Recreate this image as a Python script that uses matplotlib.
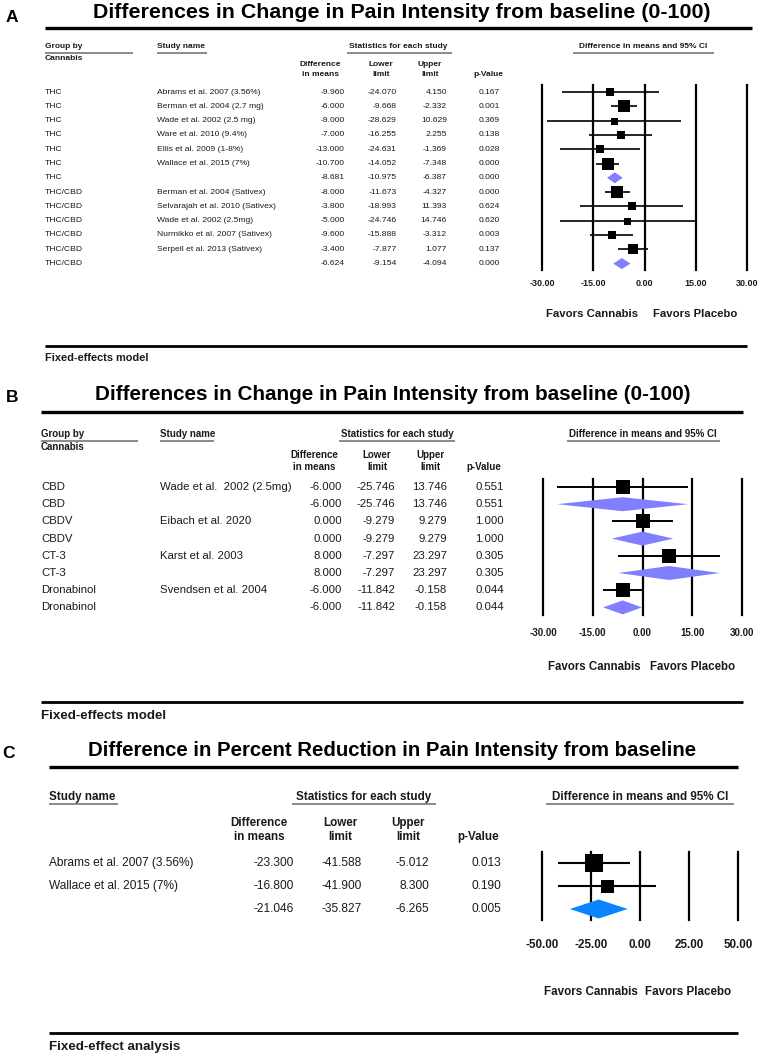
import numpy as np
import matplotlib
matplotlib.use('Agg')
import matplotlib.pyplot as plt
from matplotlib.patches import Polygon

# ---- data ----
groups_a = ['THC'] * 7 + ['THC/CBD'] * 6
studies_a = ['Abrams et al. 2007 (3.56%)', 'Berman et al. 2004 (2.7 mg)', 'Wade et al. 2002 (2.5 mg)',
             'Ware et al. 2010 (9.4%)', 'Ellis et al. 2009 (1-8%)', 'Wallace et al. 2015 (7%)', '',
             'Berman et al. 2004 (Sativex)', 'Selvarajah et al. 2010 (Sativex)', 'Wade et al. 2002 (2.5mg)',
             'Nurmikko et al. 2007 (Sativex)', 'Serpell et al. 2013 (Sativex)', '']
diff_a = [-9.960, -6.000, -9.000, -7.000, -13.000, -10.700, -8.681, -8.000, -3.800, -5.000, -9.600, -3.400, -6.624]
lower_a = [-24.070, -9.668, -28.629, -16.255, -24.631, -14.052, -10.975, -11.673, -18.993, -24.746, -15.888, -7.877, -9.154]
upper_a = [4.150, -2.332, 10.629, 2.255, -1.369, -7.348, -6.387, -4.327, 11.393, 14.746, -3.312, 1.077, -4.094]
p_a = [0.167, 0.001, 0.369, 0.138, 0.028, 0.000, 0.000, 0.000, 0.624, 0.620, 0.003, 0.137, 0.000]

groups_b = ['CBD', 'CBD', 'CBDV', 'CBDV', 'CT-3', 'CT-3', 'Dronabinol', 'Dronabinol']
studies_b = ['Wade et al.  2002 (2.5mg)', '', 'Eibach et al. 2020', '', 'Karst et al. 2003', '',
             'Svendsen et al. 2004', '']
diff_b = [-6.000, -6.000, 0.000, 0.000, 8.000, 8.000, -6.000, -6.000]
lower_b = [-25.746, -25.746, -9.279, -9.279, -7.297, -7.297, -11.842, -11.842]
upper_b = [13.746, 13.746, 9.279, 9.279, 23.297, 23.297, -0.158, -0.158]
p_b = [0.551, 0.551, 1.000, 1.000, 0.305, 0.305, 0.044, 0.044]

studies_c = ['Abrams et al. 2007 (3.56%)', 'Wallace et al. 2015 (7%)', '']
diff_c = [-23.300, -16.800, -21.046]
lower_c = [-41.588, -41.900, -35.827]
upper_c = [-5.012, 8.300, -6.265]
p_c = [0.013, 0.190, 0.005]

ticks_ab = [-30, -15, 0, 15, 30]
ticks_c = [-50, -25, 0, 25, 50]

# ---- fonts ----
ARIAL = 'Liberation Sans'
plt.rcParams['font.family'] = [ARIAL, 'DejaVu Sans']

W, H = 762, 1058
fig = plt.figure(figsize=(W / 100, H / 100), dpi=100)
base = fig.add_axes([0, 0, 1, 1])
base.set_xlim(0, W)
base.set_ylim(H, 0)
base.axis('off')
renderer = fig.canvas.get_renderer()
TXT = '#1a1a1a'


def fit_size(s, width, bold=False):
    # font size that makes string s about `width` pixels wide
    tmp = base.text(0, 0, s, fontsize=10, fontweight='bold' if bold else 'normal')
    w = tmp.get_window_extent(renderer).width
    tmp.remove()
    return 10 * width / w


def t(x, y, s, size, bold=False, ha='left', color=TXT):
    base.text(x, y, s, fontsize=size, fontweight='bold' if bold else 'normal',
              ha=ha, va='center', color=color)


def hline(x0, x1, y, lw=2.2, color='black'):
    base.plot([x0, x1], [y, y], color=color, lw=lw, solid_capstyle='butt')


def box_sizes(groups, lo, hi, studies, smin, smax):
    w = 1.0 / ((np.array(hi) - np.array(lo)) / 3.92) ** 2
    out = []
    for i, g in enumerate(groups):
        idx = [j for j in range(len(groups)) if groups[j] == g and studies[j]]
        ws = w[idx]
        if ws.max() > ws.min():
            n = (w[i] - ws.min()) / (ws.max() - ws.min())
        else:
            n = 1.0
        out.append(smin + (smax - smin) * n)
    return out


def forest(px0, px1, py0, py1, xlim, row0, dy, diff, lo, hi, studies, sizes, dcol, dhalf,
           ticks, tsize, tpad, cilw, vlw=1.6):
    ax = fig.add_axes([px0 / W, 1 - py1 / H, (px1 - px0) / W, (py1 - py0) / H])
    ax.patch.set_visible(False)
    ax.set_xlim(xlim)
    ax.set_ylim((py1 - row0) / dy, (py0 - row0) / dy)
    for s in ax.spines.values():
        s.set_visible(False)
    for tk in ticks:
        ax.axvline(tk, color='black', lw=vlw, clip_on=False, zorder=1)
    for i in range(len(diff)):
        if studies[i]:
            ax.plot([lo[i], hi[i]], [i, i], color='black', lw=cilw, zorder=2, solid_capstyle='butt')
            ax.plot(diff[i], i, marker='s', ms=sizes[i] * 0.72, color='black', mec='black',
                    mew=0, zorder=3)
        else:
            h = dhalf / dy
            ax.add_patch(Polygon([(lo[i], i), (diff[i], i - h), (hi[i], i), (diff[i], i + h)],
                                 closed=True, facecolor=dcol, edgecolor='none', zorder=3))
    ax.set_yticks([])
    ax.set_xticks(ticks)
    ax.set_xticklabels([f'{v:.2f}' for v in ticks], fontsize=tsize, fontweight='bold', color=TXT)
    ax.tick_params(axis='x', length=0, pad=tpad)
    return ax


title_ab = 'Differences in Change in Pain Intensity from baseline (0-100)'
title_c = 'Difference in Percent Reduction in Pain Intensity from baseline'

# ================= Panel A =================
FA = 6.1
HA = 6.05
t(6, 18, 'A', 12.5, bold=True, color='black')
t(402, 13, title_ab, fit_size(title_ab, 615, True), bold=True, ha='center', color='black')
hline(45, 752, 28, lw=2.4)
t(45, 47, 'Group by', HA, bold=True)
hline(45, 133, 52.5, lw=1.4, color='#8a8a8a')
t(45, 58, 'Cannabis', HA, bold=True)
t(157, 47, 'Study name', HA, bold=True)
hline(157, 207, 52.5, lw=1.4, color='#8a8a8a')
t(398, 47, 'Statistics for each study', HA, bold=True, ha='center')
hline(347, 452, 52.5, lw=1.4, color='#8a8a8a')
t(643, 47, 'Difference in means and 95% CI', HA, bold=True, ha='center')
hline(573, 714, 52.5, lw=1.4, color='#8a8a8a')
t(320, 64, 'Difference', HA, bold=True, ha='center')
t(320, 75, 'in means', HA, bold=True, ha='center')
t(381, 64, 'Lower', HA, bold=True, ha='center')
t(381, 75, 'limit', HA, bold=True, ha='center')
t(430, 64, 'Upper', HA, bold=True, ha='center')
t(430, 75, 'limit', HA, bold=True, ha='center')
t(488, 75, 'p-Value', HA, bold=True, ha='center')

ya0, dya = 92, 14.3
for i in range(len(diff_a)):
    y = ya0 + dya * i
    t(45, y, groups_a[i], FA)
    t(157, y, studies_a[i], FA)
    t(345, y, f'{diff_a[i]:.3f}', FA, ha='right')
    t(397, y, f'{lower_a[i]:.3f}', FA, ha='right')
    t(447, y, f'{upper_a[i]:.3f}', FA, ha='right')
    t(500, y, f'{p_a[i]:.3f}', FA, ha='right')

sz_a = box_sizes(groups_a, lower_a, upper_a, studies_a, 7, 12)
forest(542, 747, 85, 270, (-30, 30), ya0, dya, diff_a, lower_a, upper_a, studies_a, sz_a,
       '#8080ff', 5.5, ticks_ab, 6.5, 6.5, 1.2)
t(638, 314, 'Favors Cannabis', 8.2, bold=True, ha='right')
t(653, 314, 'Favors Placebo', 8.2, bold=True)
hline(45, 747, 346, lw=2.0)
t(45, 358, 'Fixed-effects model', 7.9, bold=True)

# ================= Panel B =================
FB = 8.2
HB = 7.0
t(6, 398, 'B', 12.5, bold=True, color='black')
t(393, 394, title_ab, fit_size(title_ab, 596, True), bold=True, ha='center', color='black')
hline(41, 743, 412, lw=2.4)
t(41, 434, 'Group by', HB, bold=True)
hline(41, 138, 440.5, lw=1.4, color='#8a8a8a')
t(41, 447, 'Cannabis', HB, bold=True)
t(160, 434, 'Study name', HB, bold=True)
hline(160, 214, 440.5, lw=1.4, color='#8a8a8a')
t(397, 434, 'Statistics for each study', HB, bold=True, ha='center')
hline(339, 455, 440.5, lw=1.4, color='#8a8a8a')
t(643, 434, 'Difference in means and 95% CI', HB, bold=True, ha='center')
hline(567, 720, 440.5, lw=1.4, color='#8a8a8a')
t(314, 455, 'Difference', HB, bold=True, ha='center')
t(314, 467, 'in means', HB, bold=True, ha='center')
t(377, 455, 'Lower', HB, bold=True, ha='center')
t(377, 467, 'limit', HB, bold=True, ha='center')
t(430, 455, 'Upper', HB, bold=True, ha='center')
t(430, 467, 'limit', HB, bold=True, ha='center')
t(484, 467, 'p-Value', HB, bold=True, ha='center')

yb0, dyb = 487, 17.2
for i in range(len(diff_b)):
    y = yb0 + dyb * i
    t(41, y, groups_b[i], FB)
    t(160, y, studies_b[i], FB)
    t(342, y, f'{diff_b[i]:.3f}', FB, ha='right')
    t(395, y, f'{lower_b[i]:.3f}', FB, ha='right')
    t(447, y, f'{upper_b[i]:.3f}', FB, ha='right')
    t(504, y, f'{p_b[i]:.3f}', FB, ha='right')

sz_b = box_sizes(groups_b, lower_b, upper_b, studies_b, 14, 14)
forest(543, 742, 479, 615, (-30, 30), yb0, dyb, diff_b, lower_b, upper_b, studies_b, sz_b,
       '#8080ff', 7, ticks_ab, 7.0, 9, 1.4)
t(594, 667, 'Favors Cannabis', 8.3, bold=True, ha='center')
t(693, 667, 'Favors Placebo', 8.3, bold=True, ha='center')
hline(41, 743, 702, lw=2.0)
t(41, 716, 'Fixed-effects model', 9.6, bold=True)

# ================= Panel C =================
FC = 8.6
HC = 8.4
t(2, 753, 'C', 12.5, bold=True, color='black')
t(392, 750, title_c, fit_size(title_c, 609, True), bold=True, ha='center', color='black')
hline(49, 738, 767, lw=2.4)
t(49, 797, 'Study name', HC, bold=True)
hline(49, 118, 804, lw=1.4, color='#8a8a8a')
t(364, 797, 'Statistics for each study', HC, bold=True, ha='center')
hline(292, 436, 804, lw=1.4, color='#8a8a8a')
t(640, 797, 'Difference in means and 95% CI', HC, bold=True, ha='center')
hline(546, 734, 804, lw=1.4, color='#8a8a8a')
t(259, 823, 'Difference', HC, bold=True, ha='center')
t(259, 837, 'in means', HC, bold=True, ha='center')
t(340, 823, 'Lower', HC, bold=True, ha='center')
t(340, 837, 'limit', HC, bold=True, ha='center')
t(408, 823, 'Upper', HC, bold=True, ha='center')
t(408, 837, 'limit', HC, bold=True, ha='center')
t(478, 837, 'p-Value', HC, bold=True, ha='center')

yc0, dyc = 863, 23
grp_c = ['all'] * len(diff_c)
for i in range(len(diff_c)):
    y = yc0 + dyc * i
    t(49, y, studies_c[i], FC)
    t(294, y, f'{diff_c[i]:.3f}', FC, ha='right')
    t(362, y, f'{lower_c[i]:.3f}', FC, ha='right')
    t(429, y, f'{upper_c[i]:.3f}', FC, ha='right')
    t(501, y, f'{p_c[i]:.3f}', FC, ha='right')

sz_c = box_sizes(grp_c, lower_c, upper_c, studies_c, 13, 18)
forest(542, 738, 852, 920, (-50, 50), yc0, dyc, diff_c, lower_c, upper_c, studies_c, sz_c,
       '#0a84ff', 9.5, ticks_c, 8.4, 14, 1.5)
t(591, 992, 'Favors Cannabis', 8.4, bold=True, ha='center')
t(688, 992, 'Favors Placebo', 8.4, bold=True, ha='center')
hline(49, 738, 1033, lw=2.0)
t(49, 1047, 'Fixed-effect analysis', 9.6, bold=True)

fig.savefig('out.png', dpi=100)
